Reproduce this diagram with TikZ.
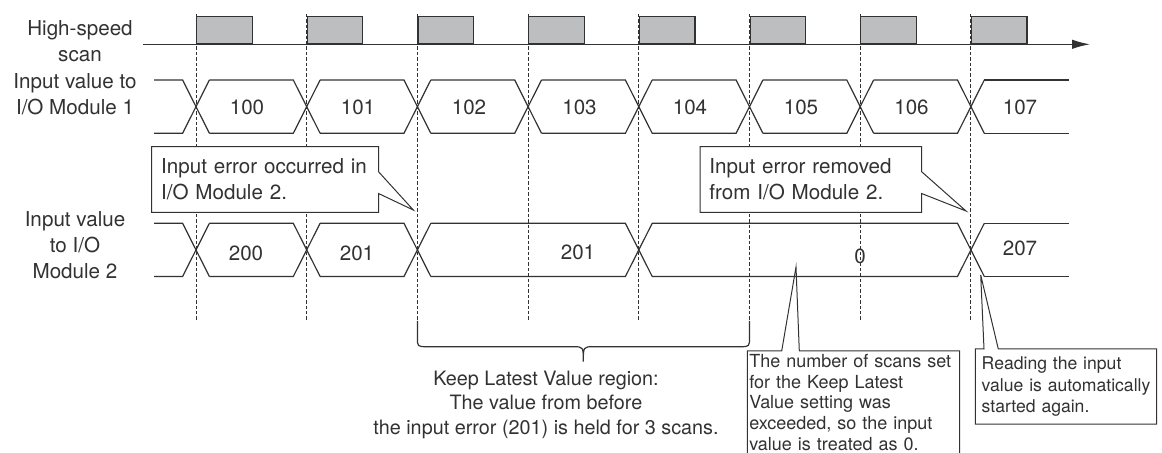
\documentclass[tikz,border=0pt]{standalone}
\usepackage{fontspec}
\setmainfont{TeX Gyre Heros}
\usepackage{tikz}
\usetikzlibrary{arrows.meta}
\definecolor{ScanGray}{RGB}{188,190,192}
\definecolor{InkGray}{RGB}{50,50,50}

\begin{document}
\begin{tikzpicture}[
  x=0.5pt, y=-0.5pt,
  every node/.style={font=\fontsize{10.3}{13}\selectfont, text=InkGray},
  rowlabel/.style={align=center, inner sep=0pt},
  value/.style={inner sep=0pt},
  scanbox/.style={draw=InkGray, fill=ScanGray, line width=0.6pt, minimum width=27.75pt, minimum height=13.5pt, inner sep=0pt, anchor=south west},
  guide/.style={draw=InkGray, line width=0.45pt, dash pattern=on 1.7pt off 1pt},
  sig/.style={draw=InkGray, line width=0.6pt},
  axis/.style={draw=InkGray, line width=0.6pt, -{Latex[length=9pt,width=4.7pt]}},
  note/.style={align=left, fill=white, inner ysep=0pt, inner xsep=4.5pt, minimum height=32.5pt, anchor=north west},
  smallnote/.style={align=left, fill=white, font=\fontsize{9}{10.4}\selectfont, inner ysep=0pt, anchor=north west},
  callout/.style={draw=InkGray, line width=0.5pt},
  brace/.style={draw=InkGray, line width=0.6pt}
]
\useasboundingbox (0,0) rectangle (1162,453);

\node[rowlabel] (lscan) at (80,41) {High-speed\\scan};
\node[rowlabel] (lmod1) at (75,94.5) {Input value to\\I/O Module 1};
\node[rowlabel] (lmod2) at (75,245) {Input value\\to I/O\\Module 2};

\coordinate (ax0) at (143,44.3);
\coordinate (ax1) at (1090,44.3);
\draw[axis] (ax0) -- (ax1);

\foreach \k/\x in {1/196,2/306.7,3/417.4,4/528.1,5/638.8,6/749.5,7/860.2,8/970.9}{
  \node[scanbox] (s\k) at (\x,44.3) {};
  \draw[guide] ([yshift=1pt]s\k.north west) -- (\x,321.7);
}

\foreach \t [remember=\t as \p (initially 140.6)] in {196,306.7,417.4,528.1,638.8,749.5,860.2,970.9}{
  \draw[sig] ({\p+13.4},80) -- ({\t-13.4},80) -- ({\t+13.4},133.3);
  \draw[sig] ({\p+13.4},133.3) -- ({\t-13.4},133.3) -- ({\t+13.4},80);
}
\draw[sig] (984.3,80) -- (1069.3,80) (984.3,133.3) -- (1069.3,133.3);

\foreach \t [remember=\t as \p (initially 140.6)] in {196,306.7,417.4,638.8,970.9}{
  \draw[sig] ({\p+13.4},223.3) -- ({\t-13.4},223.3) -- ({\t+13.4},276.5);
  \draw[sig] ({\p+13.4},276.5) -- ({\t-13.4},276.5) -- ({\t+13.4},223.3);
}
\draw[sig] (984.3,223.3) -- (1069.3,223.3) (984.3,276.5) -- (1069.3,276.5);

\node[value] (v100) at (247,107) {100};
\node[value] (v101) at (358,107) {101};
\node[value] (v102) at (469,107) {102};
\node[value] (v103) at (579.5,107) {103};
\node[value] (v104) at (690,107) {104};
\node[value] (v105) at (801,107) {105};
\node[value] (v106) at (911.5,107) {106};
\node[value] (v107) at (1020,107) {107};

\node[value] (w200) at (246,253) {200};
\node[value] (w201) at (357,253) {201};
\node[value] (w201b) at (578,252) {201};
\node[value] (w0) at (860,256) {0};
\node[value] (w207) at (1020,248) {207};

\node[note, minimum width=113pt, text width=104pt] (errin) at (151.7,146.7) {Input error occurred in\\I/O Module 2.};
\coordinate (errintip) at (413.3,210);
\draw[callout] (errin.north west) -- (errin.north east) -- ([yshift=-12.5pt]errin.north east) -- (errintip)
  -- ([yshift=9.5pt]errin.south east) -- (errin.south east) -- (errin.south west) -- cycle;

\node[note, minimum width=110.4pt, text width=101.4pt] (errout) at (700,146.7) {Input error removed\\from I/O Module 2.};
\coordinate (errouttip) at (966,211);
\draw[callout] (errout.north west) -- (errout.north east) -- ([yshift=-12.5pt]errout.north east) -- (errouttip)
  -- ([yshift=9.5pt]errout.south east) -- (errout.south east) -- (errout.south west) -- cycle;

\draw[brace] (417.4,321) -- (417.4,337) .. controls (417.4,346.7) .. (427,346.7) -- (573,346.7)
  .. controls (583.3,346.7) .. (583.3,361.7) .. controls (583.3,346.7) .. (593.6,346.7)
  -- (739.9,346.7) .. controls (749.5,346.7) .. (749.5,337) -- (749.5,321);
\node[align=center, font=\fontsize{9.9}{12.25}\selectfont] (keep) at (546,404.5)
  {Keep Latest Value region:\\The value from before\\the input error (201) is held for 3 scans.};

\node[smallnote, inner xsep=0.8pt, text width=104.1pt, minimum height=51pt] (zero) at (747.3,351)
  {The number of scans set\\for the Keep Latest\\Value setting was\\exceeded, so the input\\value is treated as 0.};
\coordinate (zerotip) at (796,267);
\draw[callout] (zero.south west) -- (zero.north west) -- ([xshift=17.2pt]zero.north west) -- (zerotip)
  -- ([xshift=26pt]zero.north west) -- (zero.north east) -- (zero.south east);

\node[smallnote, font=\fontsize{8.8}{10.6}\selectfont, inner xsep=3pt, text width=84.3pt, minimum height=37.2pt] (restart) at (975.3,349)
  {Reading the input\\value is automatically\\started again.};
\coordinate (restarttip) at (980.7,275);
\draw[callout] (restart.north west) -- ([xshift=4.35pt]restart.north west) -- (restarttip)
  -- ([xshift=11.5pt]restart.north west) -- (restart.north east) -- (restart.south east) -- (restart.south west) -- cycle;
\end{tikzpicture}
\end{document}
